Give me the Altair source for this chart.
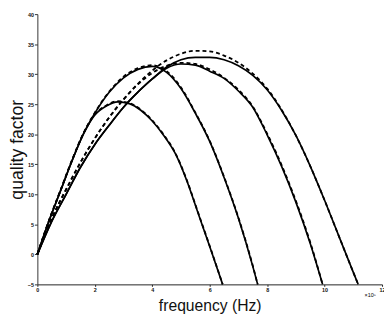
import altair as alt
import pandas as pd

# Curve 1 (peak ~25)
c1_x = [0, 0.4, 0.8, 1.2, 1.6, 2.0, 2.4, 2.8, 3.2, 3.6, 4.0, 4.4, 4.8, 5.2, 5.6, 6.0, 6.45]
c1_y = [0, 5.5, 10.5, 15.5, 20.0, 23.2, 24.7, 25.4, 25.1, 24.0, 22.2, 19.8, 16.8, 12.3, 6.8, 1.3, -5]
# Curve 2 (peak ~31 at 4)
c2_x = [0, 0.4, 0.8, 1.2, 1.6, 2.0, 2.5, 3.0, 3.5, 4.0, 4.5, 5.0, 5.5, 6.0, 6.5, 7.0, 7.5, 7.67]
c2_y = [0, 5.5, 10.5, 15.5, 20.0, 23.5, 27.0, 29.4, 30.8, 31.3, 30.3, 27.6, 23.5, 18.8, 12.8, 6.0, -2.0, -5]
# Curve 3 (peak ~31.7 at 5)
c3_x = [0, 0.5, 1.0, 1.5, 2.0, 2.5, 3.0, 3.5, 4.0, 4.5, 5.0, 5.5, 6.0, 6.5, 7.0, 7.5, 8.0, 8.5, 9.0, 9.5, 9.93]
c3_y = [0, 5.5, 10.0, 14.5, 18.3, 21.5, 24.5, 27.0, 29.2, 31.0, 31.7, 31.5, 30.5, 29.3, 27.2, 24.5, 19.9, 14.7, 8.7, 1.8, -5]
# Curve 4 (peak ~32.8 at 5.7)
c4_x = [0, 0.5, 1.0, 1.5, 2.0, 2.5, 3.0, 3.5, 4.0, 4.5, 5.0, 5.5, 6.0, 6.5, 7.0, 7.5, 8.0, 8.5, 9.0, 9.5, 10.0, 10.5, 11.0, 11.17]
c4_y = [0, 5.5, 10.0, 14.5, 18.3, 21.5, 24.5, 27.0, 29.2, 31.2, 32.4, 32.8, 32.8, 32.4, 31.4, 29.8, 27.4, 24.0, 19.8, 14.7, 9.0, 3.0, -3.0, -5]

# Dashed companions
d1_x = c1_x
d1_y = [0, 5.6, 10.6, 15.6, 20.1, 23.3, 24.8, 25.5, 25.2, 24.1, 22.3, 19.9, 16.9, 12.4, 6.9, 1.4, -5]
d2_x = c2_x
d2_y = [0, 5.6, 10.6, 15.6, 20.1, 23.6, 27.1, 29.6, 31.0, 31.5, 30.5, 27.8, 23.6, 18.9, 12.9, 6.1, -1.9, -5]
d3_x = [0, 0.5, 1.0, 1.5, 2.0, 2.5, 3.0, 3.5, 4.0, 4.5, 5.0, 5.5, 6.0, 6.5, 7.0, 7.5, 8.0, 8.5, 9.0, 9.5, 9.93]
d3_y = [0, 6.0, 10.8, 15.3, 19.3, 22.8, 25.8, 28.3, 30.2, 31.4, 31.9, 31.7, 30.8, 29.4, 27.4, 24.6, 20.1, 14.9, 8.9, 2.0, -5]
d4_x = c4_x
d4_y = [0, 6.0, 10.8, 15.3, 19.3, 22.8, 25.8, 28.4, 30.6, 32.3, 33.4, 33.9, 33.8, 33.1, 31.9, 30.1, 27.6, 24.1, 19.8, 14.7, 9.0, 3.0, -3.0, -5]

x_ticks = [0, 2, 4, 6, 8, 10, 12]
y_tick_count = 9  # ticks every 5 from -5 to 40

def frame(xs, ys, name, style):
    return pd.DataFrame({"f": xs, "q": ys, "series": name, "style": style})

data = pd.concat([
    frame(c1_x, c1_y, "c1", "solid"), frame(c2_x, c2_y, "c2", "solid"),
    frame(c3_x, c3_y, "c3", "solid"), frame(c4_x, c4_y, "c4", "solid"),
    frame(d1_x, d1_y, "d1", "dashed"), frame(d2_x, d2_y, "d2", "dashed"),
    frame(d3_x, d3_y, "d3", "dashed"), frame(d4_x, d4_y, "d4", "dashed"),
])

xs = alt.Scale(domain=[0, 12], nice=False, zero=False)
ys = alt.Scale(domain=[-5, 40], nice=False, zero=False)

x_enc = alt.X("f:Q", scale=xs, axis=alt.Axis(
    values=x_ticks, title="frequency (Hz)", grid=False, tickSize=2,
    labelFontSize=5.5, labelFontWeight="bold", labelPadding=1, labelOverlap=False,
    titleFontSize=16, titleFontWeight="normal", titlePadding=5,
    domainColor="#222", tickColor="#222", labelColor="#111", titleColor="#111",
    labelFlush=False))
y_enc = alt.Y("q:Q", scale=ys, axis=alt.Axis(
    tickCount=y_tick_count, title="quality factor", grid=False, tickSize=3,
    labelFontSize=5.5, labelFontWeight="bold", labelPadding=1, labelOverlap=False,
    labelSeparation=0, labelBound=False,
    titleFontSize=18, titleFontWeight="normal", titlePadding=1,
    domainColor="#333", tickColor="#333", labelColor="#111", titleColor="#111",
    labelFlush=False))

base = alt.Chart(data).encode(x=x_enc, y=y_enc, detail="series:N")

solid_layer = base.transform_filter(alt.datum.style == "solid").mark_line(
    color="black", strokeWidth=1.7, interpolate="monotone")

dashed_layer = base.transform_filter(alt.datum.style == "dashed").mark_line(
    color="black", strokeWidth=1.8, strokeDash=[4, 3], interpolate="monotone")

note = alt.Chart(pd.DataFrame({"f": [12], "q": [-5], "t": ["×10⁵"]})).mark_text(
    fontSize=5.5, dx=-12, dy=11, color="black", font="Liberation Sans"
).encode(x=alt.X("f:Q", scale=xs), y=alt.Y("q:Q", scale=ys), text="t:N")

chart = alt.layer(solid_layer, dashed_layer, note).properties(
    width=352, height=276,
    autosize=alt.AutoSizeParams(type="none"),
    padding={"left": 30, "top": 3, "right": 2, "bottom": 27},
).configure_view(stroke=None).configure_axis(
    labelFont="Liberation Sans", titleFont="Liberation Sans"
)

chart.save("out.html", embed_options={"renderer": "svg", "actions": False})
